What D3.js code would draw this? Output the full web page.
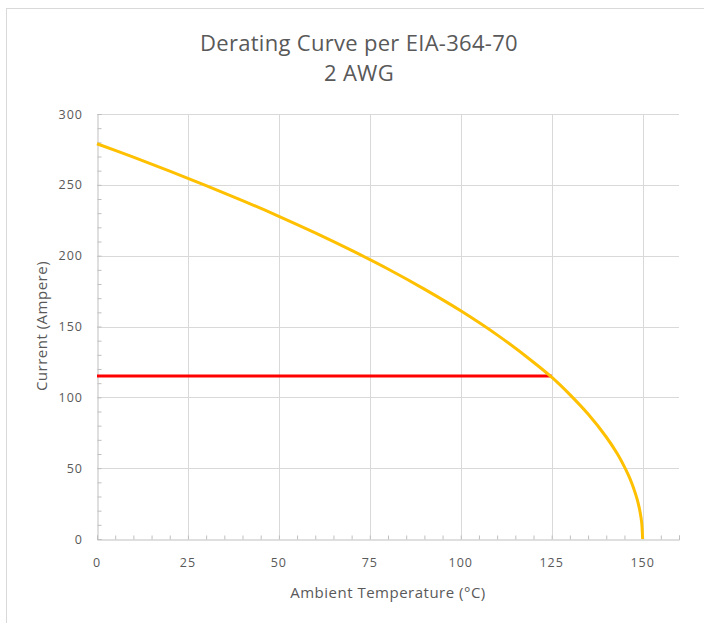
<!DOCTYPE html>
<html>
<head>
<meta charset="utf-8">
<script src="https://cdn.jsdelivr.net/npm/d3@7"></script>
<style>
  html, body { margin: 0; padding: 0; background: #fff; }
  svg { display: block; }
</style>
</head>
<body>
<script>
// values
var titleLines = ['Derating Curve per EIA-364-70', '2 AWG']
var xLabel = 'Ambient Temperature (°C)'
var yLabel = 'Current (Ampere)'

var xTicks = [0, 25, 50, 75, 100, 125, 150]
var yTicks = [0, 50, 100, 150, 200, 250, 300]

// derating curve (temperature in °C, current in A)
var curveTemp = [0, 10, 20, 30, 40, 50, 60, 70, 80, 90, 100, 110, 120, 125, 130, 135, 140, 143, 145, 146, 147, 148, 148.5, 149, 149.3, 149.6, 149.8, 150]
var curveAmps = [279, 269.5, 259.7, 249.5, 238.9, 227.8, 216.1, 203.7, 190.6, 176.4, 161.1, 144.1, 124.8, 114.2, 101.9, 88.2, 72, 60.3, 50.9, 45.6, 39.5, 32.2, 27.9, 22.8, 19, 14.4, 10, 0]

// rated current at 125 °C
var limitTemp = [0, 125]
var limitAmps = [115, 115]

var W = 704, H = 623
var margin = {top: 114, right: 25, bottom: 84, left: 97}

var svg = d3.select('body').append('svg')
  .attr('width', W)
  .attr('height', H)

// chart frame, runs off the right and bottom edge
svg.append('rect')
  .attr('x', 6.5)
  .attr('y', 8.5)
  .attr('width', W + 20)
  .attr('height', H + 20)
  .attr('fill', '#fff')
  .attr('stroke', '#d9d9d9')

var x = d3.scaleLinear().domain([0, 160]).range([margin.left, W - margin.right])
var y = d3.scaleLinear().domain([0, 300]).range([H - margin.bottom, margin.top])

var grid = svg.append('g')

grid.selectAll('line.h')
  .data(yTicks.slice(1))
  .enter().append('line')
  .attr('class', 'h')
  .attr('x1', x(0)).attr('x2', x(160))
  .attr('y1', function(d) { return Math.round(y(d)) + 0.5 })
  .attr('y2', function(d) { return Math.round(y(d)) + 0.5 })
  .attr('stroke', '#d9d9d9')

grid.selectAll('line.v')
  .data(xTicks.slice(1))
  .enter().append('line')
  .attr('class', 'v')
  .attr('y1', y(0)).attr('y2', y(300))
  .attr('x1', function(d) { return Math.round(x(d)) + 0.5 })
  .attr('x2', function(d) { return Math.round(x(d)) + 0.5 })
  .attr('stroke', '#d9d9d9')

// axes, minor ticks point inward like the original
var xAxis = svg.append('g')
  .attr('transform', 'translate(0,' + (Math.round(y(0)) + 0.5) + ')')
  .call(d3.axisTop(x).tickValues(d3.range(0, 161, 5)).tickSize(4).tickFormat(''))
xAxis.select('.domain').attr('stroke', '#bfbfbf')
xAxis.selectAll('.tick line').attr('stroke', '#bfbfbf')

var yAxis = svg.append('g')
  .attr('transform', 'translate(' + (Math.round(x(0)) + 0.5) + ',0)')
  .call(d3.axisRight(y).tickValues(d3.range(0, 301, 10)).tickSize(4).tickFormat(''))
yAxis.select('.domain').attr('stroke', '#bfbfbf')
yAxis.selectAll('.tick line').attr('stroke', '#bfbfbf')

var font = '"Open Sans", sans-serif'

svg.append('g').selectAll('text')
  .data(xTicks)
  .enter().append('text')
  .attr('x', function(d) { return x(d) })
  .attr('y', y(0) + 28)
  .attr('text-anchor', 'middle')
  .attr('font-family', font)
  .attr('font-size', 12.5)
  .attr('letter-spacing', 1)
  .attr('fill', '#595959')
  .text(function(d) { return d })

svg.append('g').selectAll('text')
  .data(yTicks)
  .enter().append('text')
  .attr('x', x(0) - 14)
  .attr('y', function(d) { return y(d) + 4.5 })
  .attr('text-anchor', 'end')
  .attr('font-family', font)
  .attr('font-size', 12.5)
  .attr('letter-spacing', 1)
  .attr('fill', '#595959')
  .text(function(d) { return d })

// axis titles
svg.append('text')
  .attr('x', (x(0) + x(160)) / 2)
  .attr('y', 598)
  .attr('text-anchor', 'middle')
  .attr('font-family', font)
  .attr('font-size', 15)
  .attr('letter-spacing', 0.5)
  .attr('fill', '#595959')
  .text(xLabel)

svg.append('text')
  .attr('transform', 'translate(47,' + 326 + ') rotate(-90)')
  .attr('text-anchor', 'middle')
  .attr('font-family', font)
  .attr('font-size', 15)
  .attr('letter-spacing', 0.5)
  .attr('fill', '#595959')
  .text(yLabel)

// title
svg.append('g').selectAll('text')
  .data(titleLines)
  .enter().append('text')
  .attr('x', 359)
  .attr('y', function(d, i) { return 51 + i * 30 })
  .attr('text-anchor', 'middle')
  .attr('font-family', font)
  .attr('font-size', 22)
  .attr('letter-spacing', 0.3)
  .attr('fill', '#595959')
  .text(function(d) { return d })

// lines
var limitLine = d3.line()
  .x(function(d, i) { return x(limitTemp[i]) })
  .y(function(d, i) { return y(limitAmps[i]) })

svg.append('path')
  .datum(limitTemp)
  .attr('d', limitLine)
  .attr('fill', 'none')
  .attr('stroke', '#ff0000')
  .attr('stroke-width', 3)

var derate = d3.line()
  .x(function(d, i) { return x(curveTemp[i]) })
  .y(function(d, i) { return y(curveAmps[i]) })
  .curve(d3.curveCatmullRom.alpha(0.5))

svg.append('path')
  .datum(curveTemp)
  .attr('d', derate)
  .attr('fill', 'none')
  .attr('stroke', '#ffc000')
  .attr('stroke-width', 3)
</script>
</body>
</html>
